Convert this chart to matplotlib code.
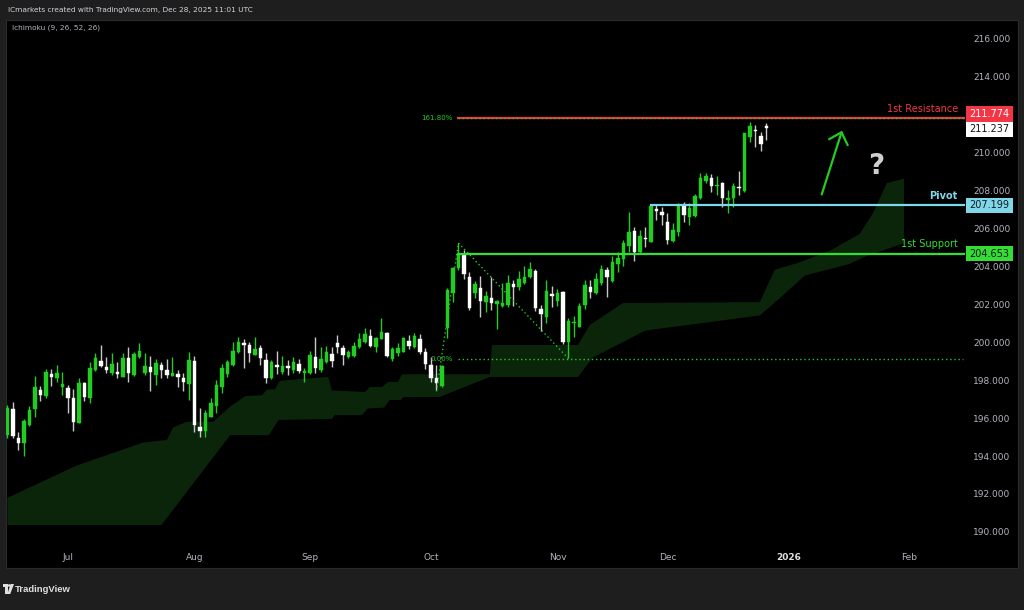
import matplotlib
matplotlib.use("Agg")
import matplotlib.pyplot as plt
from matplotlib.patches import Rectangle, Polygon, Circle
import numpy as np

# ---------------- data ----------------
opens = [195.11,196.47,194.95,194.68,195.63,196.47,197.47,197.16,198.32,198.11,197.63,197.58,197.05,195.74,197.84,197.05,198.53,199.00,198.68,198.37,
         198.42,198.16,199.16,198.26,199.21,198.37,198.68,198.26,198.79,198.53,198.21,198.32,198.11,197.79,199.00,195.53,195.32,196.05,196.63,197.63,
         198.32,198.79,199.47,199.95,199.84,199.32,199.68,199.05,198.11,198.79,198.42,198.74,198.53,198.84,198.37,198.37,199.21,198.53,198.95,199.37,
         199.95,199.68,199.21,199.26,199.74,200.00,200.32,199.74,200.16,200.47,199.11,199.42,199.47,200.05,199.74,200.16,199.47,198.79,198.11,197.68,
         200.74,202.58,203.89,204.58,203.42,202.58,202.84,202.11,202.32,202.00,201.89,201.95,203.05,202.89,203.11,203.42,203.74,201.74,201.32,202.53,
         202.16,202.63,200.00,201.00,200.79,201.95,202.89,202.58,203.11,203.79,203.21,204.11,204.37,205.05,205.84,204.74,205.47,205.26,207.00,206.84,
         206.32,205.32,205.79,207.21,206.58,206.63,207.58,208.47,208.63,208.21,208.37,207.47,207.58,208.16,207.95,210.79,211.16,210.84,211.37]
highs = [196.68,196.84,195.26,195.95,196.63,198.21,197.68,198.58,198.58,198.79,198.42,197.74,197.53,198.11,197.89,198.95,199.42,199.84,199.21,199.42,
         198.95,199.42,199.74,199.47,199.95,199.42,199.26,199.11,198.95,199.11,199.21,198.53,198.37,199.47,199.26,196.53,196.42,197.05,198.00,198.84,
         199.05,200.00,200.26,200.16,200.00,200.26,199.84,199.42,199.05,199.53,199.26,199.05,199.21,199.11,198.63,199.53,200.26,199.74,199.79,199.74,
         200.37,199.84,199.58,200.00,200.47,200.74,200.68,200.26,201.26,200.53,199.74,199.95,200.26,200.37,200.47,200.42,199.68,199.21,198.79,198.79,
         202.84,203.95,205.21,204.84,203.68,203.21,203.47,202.68,203.42,202.21,203.11,203.53,203.26,203.74,204.00,204.21,203.84,201.95,203.26,202.95,
         202.79,202.68,201.26,201.37,202.05,203.26,203.26,203.63,204.05,203.95,204.53,204.74,205.37,206.84,206.05,205.89,206.05,207.21,207.21,207.11,
         206.79,206.26,207.32,207.37,207.32,207.79,208.89,208.89,208.84,208.74,208.42,208.00,208.37,209.00,211.00,211.58,211.42,211.05,211.53]
lows = [194.95,194.95,194.32,194.00,195.58,196.05,196.89,197.05,197.68,197.89,197.21,196.26,195.32,195.74,196.89,196.79,198.47,198.68,198.37,198.26,
        198.11,198.16,197.89,198.21,199.16,198.26,197.42,197.74,198.11,198.11,198.21,197.63,197.42,196.95,195.26,195.00,195.00,196.05,196.26,197.32,
        198.16,198.74,199.42,198.63,198.95,199.32,198.79,197.84,198.05,198.32,198.32,198.26,198.37,198.37,197.89,198.32,198.37,198.42,198.89,198.68,
        199.42,198.79,199.16,199.21,199.68,199.95,199.74,199.47,200.16,199.21,199.00,199.26,199.47,199.63,199.68,199.37,198.58,197.89,197.47,197.63,
        200.21,202.11,203.79,203.32,201.68,202.32,201.32,201.58,201.68,200.68,201.84,201.84,201.89,202.74,203.05,203.37,201.63,200.58,201.00,201.84,
        201.89,199.89,199.16,200.26,200.79,201.74,202.32,202.53,203.00,202.37,203.16,203.68,204.00,204.74,204.26,204.68,205.00,205.26,206.42,206.16,
        205.16,205.26,205.58,206.32,206.16,206.58,207.53,208.37,207.89,207.74,207.11,206.79,207.11,207.74,207.89,210.53,210.26,210.05,210.63]
closes = [196.53,195.05,194.68,195.84,196.42,197.63,197.21,198.42,198.16,198.37,197.79,197.05,195.79,197.84,197.11,198.63,199.16,198.74,198.53,198.84,
          198.32,199.16,198.37,199.37,199.53,198.74,198.42,198.89,198.53,198.26,198.37,198.16,197.89,199.05,195.63,195.32,196.26,196.79,197.74,198.63,
          198.95,199.53,200.00,199.84,199.42,199.63,199.16,198.11,198.95,198.68,198.74,198.63,198.95,198.47,198.47,199.32,198.63,199.11,199.47,199.00,
          199.74,199.32,199.47,199.79,200.16,200.42,199.79,200.21,200.53,199.26,199.63,199.68,200.21,199.79,200.32,199.47,198.84,198.11,197.84,198.74,
          202.74,203.89,204.63,203.58,201.79,203.05,202.16,202.42,202.05,202.16,202.05,203.11,202.89,203.32,203.42,203.84,201.79,201.47,202.68,202.42,
          202.58,200.00,201.11,201.05,201.89,203.00,202.63,203.32,203.84,203.42,204.21,204.42,205.21,205.79,204.74,205.58,205.42,207.16,206.89,206.68,
          205.37,205.89,207.21,206.68,207.05,207.68,208.63,208.74,208.21,208.26,207.58,207.58,208.21,208.11,211.00,211.37,211.11,210.42,211.237]

month_labels = ["Jul", "Aug", "Sep", "Oct", "Nov", "Dec", "2026", "Feb"]
month_bar_index = [11, 34, 55, 77, 100, 120, 142, 164]

price_ticks = [190, 192, 194, 196, 198, 200, 202, 204, 206, 208, 210, 214, 216]

# Ichimoku cloud outline (bar index, price)
cloud_upper_x = [0, 12.6, 24.6, 29, 30.1, 32.6, 37.4, 40.5, 43.2, 46.3, 47.2, 48.6, 49.5, 53.2, 58.3, 59, 65, 65.9, 68.1, 69.2, 71, 71.7,
                 87.7, 88.1, 103.7, 105.9, 111.9, 136.8, 139.5, 144.1, 149.5, 153.2, 155, 157.4, 159.9, 163]
cloud_upper_y = [191.8, 193.5, 194.7, 194.85, 195.5, 195.8, 195.8, 196.6, 197.15, 197.2, 197.5, 197.5, 197.95, 198.05, 198.16, 197.45, 197.37, 197.63, 197.63, 197.9, 197.9, 198.3,
                 198.3, 199.84, 199.84, 200.9, 202.05, 202.1, 203.8, 204.2, 204.8, 205.4, 205.7, 206.8, 208.37, 208.6]
cloud_lower_x = [0, 28, 40.5, 47.5, 49.3, 59, 59.5, 64.5, 65.5, 68.5, 69.5, 71.5, 72, 78.5, 87.7, 103.7, 106.5, 116, 136.8, 140, 145, 153, 156, 163]
cloud_lower_y = [190.37, 190.37, 195.1, 195.1, 195.9, 195.95, 196.16, 196.16, 196.5, 196.55, 196.95, 196.95, 197.1, 197.1, 198.16, 198.16, 199.2, 200.6, 201.4, 202.2, 203.5, 204.1, 204.5, 205.2]

# Fibonacci extension anchors (bar index, price)
fib_a = (78, 197.40)
fib_b = (82, 205.21)
fib_c = (102, 199.13)
fib_level_0 = 199.13
fib_level_1618 = 211.774

resistance = 211.774
pivot = 207.199
support = 204.653
last_price = 211.237

# ---------------- figure ----------------
W, H = 1024, 610
fig = plt.figure(figsize=(W / 100, H / 100), dpi=100)
fig.patch.set_facecolor("#1e1e1e")

def px_rect(x0, y0, x1, y1):
    return [x0 / W, 1 - y1 / H, (x1 - x0) / W, (y1 - y0) / H]

# black chart panel
panel = fig.add_axes(px_rect(6, 20, 1018, 568))
panel.set_facecolor("#000000")
panel.set_xticks([]); panel.set_yticks([])
for s in panel.spines.values():
    s.set_color("#2a2a2a")

ax = fig.add_axes(px_rect(6, 20, 965, 542))
ax.set_facecolor("none")
for s in ax.spines.values():
    s.set_visible(False)

x_left, x_right = -0.27, 174.1
y_top = 218 - 20 / 19.0
y_bot = 218 - 542 / 19.0
ax.set_xlim(x_left, x_right)
ax.set_ylim(y_bot, y_top)

GREEN = "#22cc22"
WHITE = "#ffffff"

# cloud
poly_x = list(cloud_upper_x) + list(cloud_lower_x[::-1])
poly_y = list(cloud_upper_y) + list(cloud_lower_y[::-1])
ax.fill(poly_x, poly_y, color="#0b250b", lw=0, zorder=1)

# candles
n = len(closes)
bw = 0.62
for i in range(n):
    o, h, l, c = opens[i], highs[i], lows[i], closes[i]
    up = c >= o
    col = GREEN if up else WHITE
    wcol = GREEN if up else "#c8c8c8"
    ax.vlines(i, l, h, color=wcol, lw=1.0, zorder=3)
    bot = min(o, c)
    hgt = max(abs(c - o), 0.06)
    ax.add_patch(Rectangle((i - bw / 2, bot), bw, hgt, facecolor=col, edgecolor=col, lw=0.3, zorder=4))

# fib extension
dot_kw = dict(color="#22cc22", lw=1.0, ls=(0, (1, 2)), zorder=5)
ax.plot([fib_a[0], fib_b[0]], [fib_a[1], fib_b[1]], **dot_kw)
ax.plot([fib_b[0], fib_c[0]], [fib_b[1], fib_c[1]], **dot_kw)
ax.plot([fib_b[0], 173.8], [fib_level_0, fib_level_0], **dot_kw)
ax.text(fib_b[0] - 1.0, fib_level_0, "0.00%", color="#22cc22", fontsize=5, ha="right", va="center", zorder=6)

# horizontal levels
ax.plot([fib_b[0], x_right], [resistance, resistance], color="#f23645", lw=1.6, zorder=5)
ax.plot([fib_b[0], x_right], [fib_level_1618, fib_level_1618], color="#22cc22", lw=1.0, ls=(0, (1, 2)), zorder=6)
ax.text(fib_b[0] - 1.0, fib_level_1618, "161.80%", color="#22cc22", fontsize=5, ha="right", va="center", zorder=6)
ax.plot([117, x_right], [pivot, pivot], color="#7fd8e8", lw=1.6, zorder=5)
ax.plot([fib_b[0], x_right], [support, support], color="#33dd33", lw=1.6, zorder=5)

ax.text(172.8, resistance + 0.22, "1st Resistance", color="#f23645", fontsize=7, ha="right", va="bottom", zorder=6)
ax.text(172.8, pivot + 0.22, "Pivot", color="#7fd8e8", fontsize=7, ha="right", va="bottom", zorder=6, fontweight="bold")
ax.text(172.8, support + 0.22, "1st Support", color="#33dd33", fontsize=7, ha="right", va="bottom", zorder=6)

# arrow and question mark
ax.annotate("", xy=(151.9, 211.26), xytext=(147.9, 207.63),
            arrowprops=dict(arrowstyle="->,head_length=0.75,head_width=0.7", color="#22cc22", lw=1.6), zorder=6)
ax.text(158.0, 209.26, "?", color="#cfcfcf", fontsize=20, fontweight="bold", ha="center", va="center", zorder=6)

# axes ticks
ax.set_xticks(month_bar_index)
ax.set_xticklabels(month_labels)
ax.tick_params(axis="x", length=0, pad=8, labelsize=6.5, colors="#b2b5be")
for lbl in ax.get_xticklabels():
    if lbl.get_text() == "2026":
        lbl.set_fontweight("bold"); lbl.set_color("#e0e0e0")
ax.yaxis.tick_right()
ax.set_yticks(price_ticks)
ax.set_yticklabels([f"{v:.3f}" for v in price_ticks])
ax.tick_params(axis="y", length=0, pad=6, labelsize=6.5, colors="#b2b5be")

# price boxes (right scale)
def price_box(yc_px, text, fc, tc):
    y0 = yc_px - 7.5
    b = fig.add_axes(px_rect(966, y0, 1013, y0 + 15))
    b.set_facecolor(fc)
    b.set_xticks([]); b.set_yticks([])
    for s in b.spines.values():
        s.set_visible(False)
    b.text(0.5, 0.5, text, color=tc, fontsize=7, ha="center", va="center", transform=b.transAxes)

def price_to_px(p):
    return 38 + (216 - p) * 19

price_box(114, f"{resistance:.3f}", "#f23645", "#ffffff")
price_box(129.5, f"{last_price:.3f}", "#ffffff", "#131313")
price_box(price_to_px(pivot), f"{pivot:.3f}", "#7fd8e8", "#131722")
price_box(price_to_px(support), f"{support:.3f}", "#33dd33", "#131722")

# header texts
fig.text(8 / W, 1 - 10 / H, "ICmarkets created with TradingView.com, Dec 28, 2025 11:01 UTC",
         color="#d1d4dc", fontsize=5.3, ha="left", va="center")
fig.text(12 / W, 1 - 28 / H, "Ichimoku (9, 26, 52, 26)", color="#b2b5be", fontsize=5.3, ha="left", va="center")

# TradingView logo mark + wordmark
logo = fig.add_axes(px_rect(3, 583, 14, 595))
logo.set_xlim(0, 11); logo.set_ylim(0, 12)
logo.axis("off")
logo.add_patch(Rectangle((0, 8), 4.6, 3, color="#e0e0e0", lw=0))
logo.add_patch(Rectangle((2.0, 1), 2.6, 9, color="#e0e0e0", lw=0))
logo.add_patch(Circle((6.2, 9.5), 1.3, color="#e0e0e0", lw=0))
logo.add_patch(Polygon([[7.6, 11], [11, 11], [7.2, 1], [4.4, 1]], closed=True, color="#e0e0e0", lw=0))
fig.text(15 / W, 1 - 589.5 / H, "TradingView", color="#e0e0e0", fontsize=6.8, fontweight="bold",
         family="Liberation Sans", ha="left", va="center")

fig.savefig("out.png", dpi=100, facecolor=fig.get_facecolor())
